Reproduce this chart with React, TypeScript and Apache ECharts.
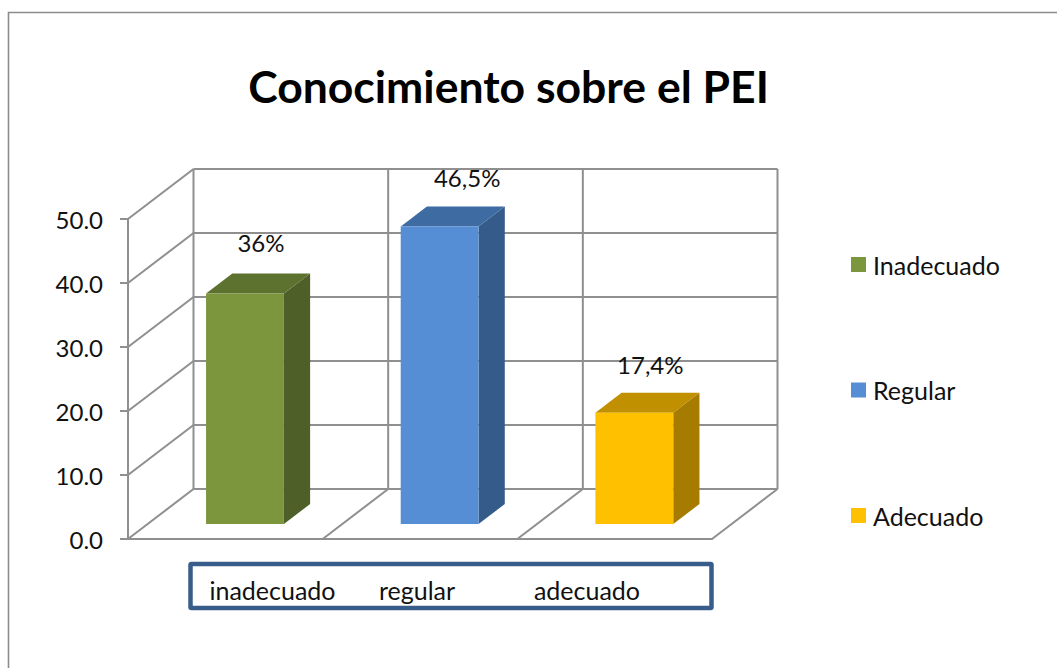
import React, { useEffect, useRef } from "react";
import * as echarts from "echarts";

const categories = ["inadecuado", "regular", "adecuado"];
const seriesNames = ["Inadecuado", "Regular", "Adecuado"];
const inadecuadoValues = [36];
const regularValues = [46.5];
const adecuadoValues = [17.4];
const dataLabels = ["36%", "46,5%", "17,4%"];
const yTicks = [0, 10, 20, 30, 40, 50];

const FONT = "Lato, Carlito, sans-serif";
const GRID = "#8f8f8f";
const DX = 65.5;
const DY = 50;
const BAR_NEAR = 0.3;
const BAR_FAR = 0.7;
const labelOffsets = [[16, -51], [27.5, -48.5], [16, -48.5]];
const boxLabelX = [272.5, 417, 587];
const palettes = [
  { front: "#7b963d", top: "#5e7230", side: "#4e5f27" },
  { front: "#558ed5", top: "#3f6ba3", side: "#345b8a" },
  { front: "#ffc000", top: "#c09000", side: "#a67c00" },
];

const line = (x1: number, y1: number, x2: number, y2: number) => ({
  type: "line",
  shape: { x1, y1, x2, y2 },
  style: { stroke: GRID, lineWidth: 2 },
});

const renderFrame = (_: any, api: any) => {
  const tick = api.value(1);
  const [cx, y] = api.coord([0, tick]);
  const band = api.size([1, 0])[0];
  const left = cx - band / 2;
  const children: any[] = [
    line(left + DX, y - DY, left + band * 3 + DX, y - DY),
    line(left, y, left + DX, y - DY),
  ];
  if (tick === yTicks[0]) {
    const yMax = api.coord([0, yTicks[yTicks.length - 1]])[1];
    for (let i = 0; i <= 3; i++) {
      children.push(line(left + i * band + DX, y - DY, left + i * band + DX, yMax - DY));
      if (i > 0) children.push(line(left + i * band, y, left + i * band + DX, y - DY));
    }
  }
  return { type: "group", children };
};

const makeBarRenderer = (index: number) => (_: any, api: any) => {
  const cat = api.value(0);
  const [cx, vy] = api.coord([cat, api.value(1)]);
  const [, zy] = api.coord([cat, 0]);
  const band = api.size([1, 0])[0];
  const w = band * 0.4;
  const nx = cx + DX * BAR_NEAR;
  const x0 = nx - w / 2;
  const x1 = nx + w / 2;
  const yTop = vy - DY * BAR_NEAR;
  const yBot = zy - DY * BAR_NEAR;
  const dx = DX * (BAR_FAR - BAR_NEAR);
  const dy = DY * (BAR_FAR - BAR_NEAR);
  const c = palettes[index];
  const poly = (points: number[][], fill: string) => ({ type: "polygon", shape: { points }, style: { fill } });
  return {
    type: "group",
    children: [
      poly([[x1, yTop], [x1 + dx, yTop - dy], [x1 + dx, yBot - dy], [x1, yBot]], c.side),
      poly([[x0, yTop], [x0 + dx, yTop - dy], [x1 + dx, yTop - dy], [x1, yTop]], c.top),
      poly([[x0, yTop], [x1, yTop], [x1, yBot], [x0, yBot]], c.front),
      {
        type: "text",
        style: {
          text: dataLabels[index],
          x: nx + labelOffsets[index][0],
          y: yTop + labelOffsets[index][1],
          align: "center",
          verticalAlign: "middle",
          fill: "#111111",
          font: `24px ${FONT}`,
        },
      },
    ],
  };
};

export default function App() {
  const ref = useRef<HTMLDivElement>(null);
  useEffect(() => {
    document.body.style.margin = "0";
    const chart = echarts.init(ref.current!, undefined, { renderer: "svg" });
    const bar = (i: number, values: number[]) => ({
      type: "custom",
      name: seriesNames[i],
      z: 3,
      clip: false,
      itemStyle: { color: palettes[i].front },
      encode: { x: 0, y: 1 },
      data: values.map((v) => [i, v]),
      renderItem: makeBarRenderer(i),
    });
    chart.setOption({
      animation: false,
      backgroundColor: "#ffffff",
      title: {
        text: "Conocimiento sobre el PEI",
        left: 503.5,
        top: 58,
        textAlign: "center",
        textStyle: { fontFamily: FONT, fontWeight: "bold", fontSize: 44.5, color: "#000000" },
      },
      grid: { left: 128, top: 219, width: 584, height: 320 },
      xAxis: {
        type: "category",
        data: categories,
        axisTick: { show: false },
        axisLabel: { show: false },
        axisLine: { lineStyle: { color: GRID, width: 2 } },
      },
      yAxis: {
        type: "value",
        min: 0,
        max: 50,
        interval: 10,
        splitLine: { show: false },
        axisLine: { show: true, lineStyle: { color: GRID, width: 2 } },
        axisTick: { show: true, length: 8, lineStyle: { color: GRID, width: 2 } },
        axisLabel: {
          margin: 25,
          fontFamily: FONT,
          fontSize: 24,
          color: "#111111",
          formatter: (v: number) => v.toFixed(1),
        },
      },
      legend: {
        data: seriesNames,
        orient: "vertical",
        left: 846,
        top: 247,
        icon: "rect",
        itemWidth: 15,
        itemHeight: 15,
        itemGap: 100.5,
        selectedMode: false,
        textStyle: { fontFamily: FONT, fontSize: 25, color: "#111111", lineHeight: 24, padding: [0, 0, 0, 2] },
      },
      graphic: [
        {
          type: "polyline",
          shape: { points: [[8.5, 668], [8.5, 12.5], [1057, 12.5]] },
          style: { fill: "none", stroke: "#8c8c8c", lineWidth: 1.6 },
        },
        {
          type: "rect",
          shape: { x: 190.5, y: 564, width: 521, height: 44, r: 1 },
          style: { fill: "#ffffff", stroke: "#385d8a", lineWidth: 4.5 },
        },
        ...categories.map((c, i) => ({
          type: "text",
          style: {
            text: c,
            x: boxLabelX[i],
            y: 589.5,
            align: "center",
            verticalAlign: "middle",
            fill: "#111111",
            font: `25px ${FONT}`,
          },
        })),
      ],
      series: [
        {
          type: "custom",
          name: "frame",
          z: 1,
          clip: false,
          silent: true,
          encode: { x: 0, y: 1 },
          data: yTicks.map((t) => [0, t]),
          renderItem: renderFrame,
        },
        bar(0, inadecuadoValues),
        bar(1, regularValues),
        bar(2, adecuadoValues),
      ],
    });
    return () => chart.dispose();
  }, []);
  return <div ref={ref} style={{ width: 1057, height: 668 }} />;
}
